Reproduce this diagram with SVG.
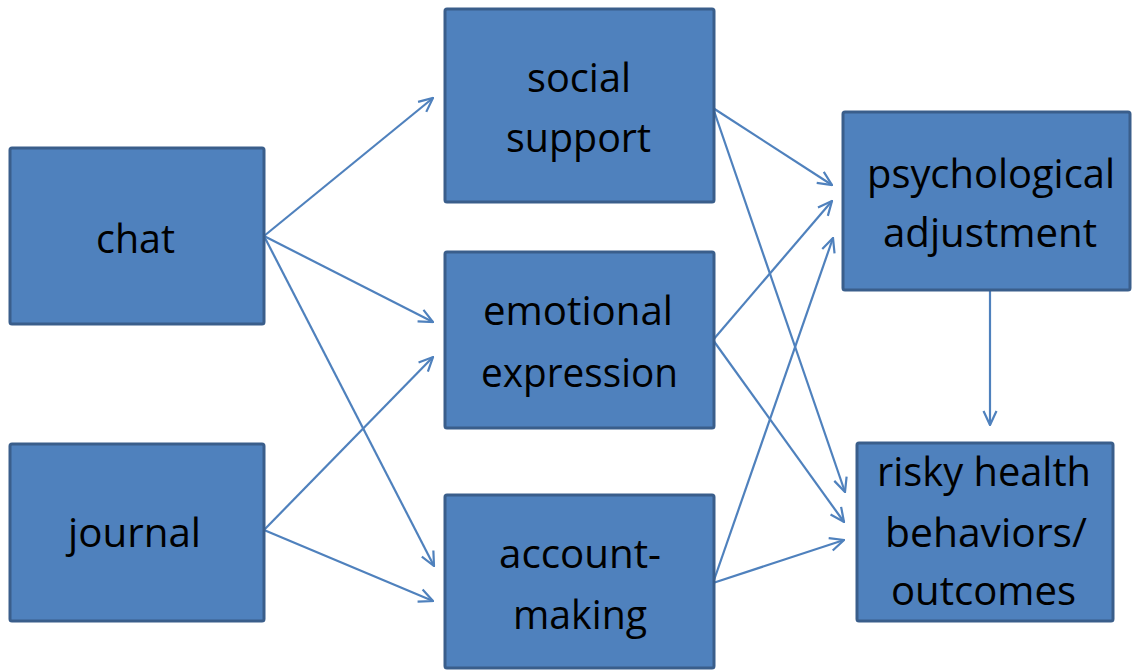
<svg xmlns="http://www.w3.org/2000/svg" width="1132" height="671" viewBox="0 0 1132 671">
  <style>
    .box { fill: #4f81bd; stroke: #3a5e8b; stroke-width: 3; }
    .lbl { font-family: "Open Sans", "Noto Sans", "Liberation Sans", sans-serif; font-size: 40px; fill: #000; text-anchor: middle; }
    .edge { fill: none; stroke: #4f81bd; stroke-width: 2.2; marker-end: url(#arrow); }
  </style>
  <defs>
    <marker id="arrow" viewBox="0 0 16 16" refX="15" refY="8" markerWidth="16" markerHeight="16" markerUnits="userSpaceOnUse" orient="auto">
      <path d="M1,1.5 L15,8 L1,14.5" fill="none" stroke="#4f81bd" stroke-width="2.2"/>
    </marker>
  </defs>
  <rect width="1132" height="671" fill="#fff"/>

  <g id="connectors">
    <line class="edge" x1="264" y1="236" x2="433" y2="98"/>
    <line class="edge" x1="264" y1="236" x2="433" y2="322"/>
    <line class="edge" x1="264" y1="236" x2="434" y2="566"/>
    <line class="edge" x1="264" y1="530" x2="433" y2="357"/>
    <line class="edge" x1="264" y1="530" x2="433" y2="601"/>
    <line class="edge" x1="713" y1="108" x2="832" y2="185"/>
    <line class="edge" x1="713" y1="108" x2="845" y2="492"/>
    <line class="edge" x1="713" y1="340" x2="832" y2="201"/>
    <line class="edge" x1="713" y1="340" x2="844" y2="522"/>
    <line class="edge" x1="713" y1="583" x2="833" y2="238"/>
    <line class="edge" x1="713" y1="583" x2="844" y2="540"/>
    <line class="edge" x1="990" y1="290" x2="990" y2="425"/>
  </g>

  <g id="chat">
    <rect class="box" x="10" y="148" width="254" height="176" rx="2"/>
    <text class="lbl" x="135.5" y="253" textLength="79" lengthAdjust="spacingAndGlyphs">chat</text>
  </g>
  <g id="journal">
    <rect class="box" x="10" y="444" width="254" height="177" rx="2"/>
    <text class="lbl" x="134.5" y="547" textLength="133" lengthAdjust="spacingAndGlyphs">journal</text>
  </g>
  <g id="social-support">
    <rect class="box" x="445" y="9" width="269" height="193" rx="2"/>
    <text class="lbl" x="579" y="92" textLength="104" lengthAdjust="spacingAndGlyphs">social</text>
    <text class="lbl" x="578.5" y="152" textLength="145" lengthAdjust="spacingAndGlyphs">support</text>
  </g>
  <g id="emotional-expression">
    <rect class="box" x="445" y="252" width="269" height="176" rx="2"/>
    <text class="lbl" x="578" y="325" textLength="190" lengthAdjust="spacingAndGlyphs">emotional</text>
    <text class="lbl" x="579.5" y="387" textLength="197" lengthAdjust="spacingAndGlyphs">expression</text>
  </g>
  <g id="account-making">
    <rect class="box" x="445" y="495" width="269" height="173" rx="2"/>
    <text class="lbl" x="580" y="568" textLength="162" lengthAdjust="spacingAndGlyphs">account-</text>
    <text class="lbl" x="580" y="629" textLength="134" lengthAdjust="spacingAndGlyphs">making</text>
  </g>
  <g id="psychological-adjustment">
    <rect class="box" x="843" y="112" width="287" height="178" rx="2"/>
    <text class="lbl" x="991" y="188" textLength="248" lengthAdjust="spacingAndGlyphs">psychological</text>
    <text class="lbl" x="990" y="247" textLength="214" lengthAdjust="spacingAndGlyphs">adjustment</text>
  </g>
  <g id="risky-health">
    <rect class="box" x="857" y="443" width="256" height="178" rx="2"/>
    <text class="lbl" x="984" y="486" textLength="214" lengthAdjust="spacingAndGlyphs">risky health</text>
    <text class="lbl" x="986" y="547" textLength="202" lengthAdjust="spacingAndGlyphs">behaviors/</text>
    <text class="lbl" x="983.5" y="605" textLength="185" lengthAdjust="spacingAndGlyphs">outcomes</text>
  </g>
</svg>
